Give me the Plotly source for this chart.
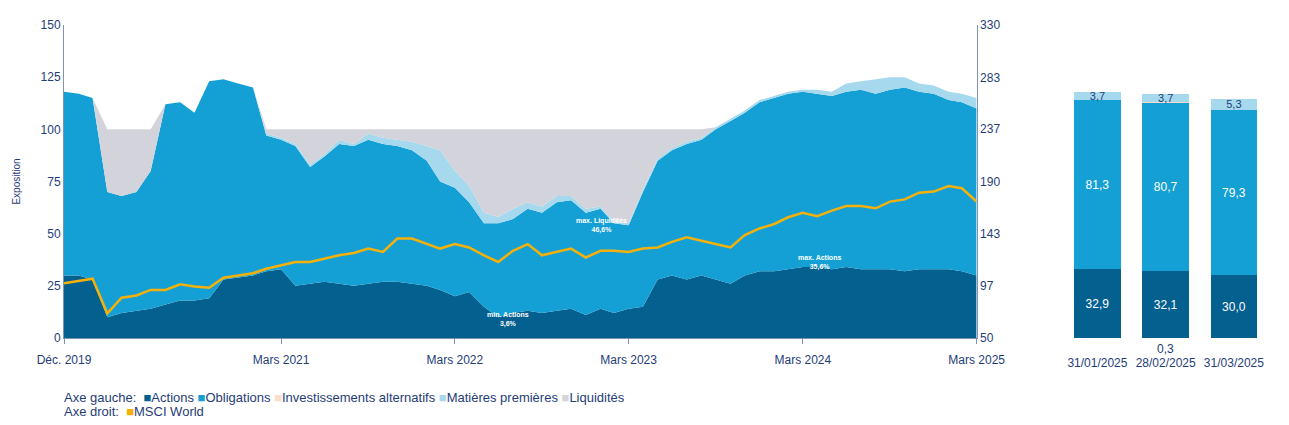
import pandas as pd
import plotly.graph_objects as go

dates = pd.date_range("2019-12-31", "2025-03-31", freq="ME")
actions = [30,30,28,10,12,13,14,16,18,18,19,28,29,30,32,33,25,26,27,26,25,26,27,27,26,25,23,20,22,15,10,12,13,12,13,14,11,14,12,14,15,28,30,28,30,28,26,30,32,32,33,34,34,33,34,33,33,33,32,33,33,33,32,30]
obligations = [88,87,87,60,56,57,66,96,95,90,104,96,93,90,65,62,67,56,60,67,67,69,66,65,64,60,52,52,43,40,45,45,49,48,52,52,49,48,43,40,55,57,60,65,65,72,78,78,81,83,84,84,83,83,84,86,84,86,88,85,84,81,81,80]
matieres = [0,0,0,0,0,0,0,0,0,0,0,0,0,0,1,1,1,1,1,2,1,3,3,3,4,7,15,8,8,5,3,5,3,3,3,2,2,1,1,1,1,1,1,1,1,1,1,1,1,1,1,1,2,2,4,4,7,6,5,4,4,4,4,5]
msci = [99,101,103,72,86,88,93,93,98,96,95,104,106,108,112,115,118,118,121,124,126,130,127,139,139,134,130,134,131,124,118,128,134,124,127,130,122,128,128,127,130,131,136,140,137,134,131,142,148,152,158,162,159,164,168,168,166,172,174,180,181,186,184,172]
liquidites = [max(0, 100 - a - o - m) for a, o, m in zip(actions, obligations, matieres)]

bar_cats = ["31/01/2025", "28/02/2025", "31/03/2025"]
bar_actions = [32.9, 32.1, 30.0]
bar_oblig = [81.3, 80.7, 79.3]
bar_alt = [0.0, 0.3, 0.0]
bar_mat = [3.7, 3.7, 5.3]

tick_dates = ["2019-12-31", "2021-03-31", "2022-03-31", "2023-03-31", "2024-03-31", "2025-03-31"]
tick_text = ["Déc. 2019", "Mars 2021", "Mars 2022", "Mars 2023", "Mars 2024", "Mars 2025"]

C_ACT, C_OBL, C_ALT, C_MAT, C_LIQ, C_MSCI = "#04608f", "#14a0d4", "#f9dccb", "#a7d9ee", "#d3d4db", "#f5b10a"
NAVY = "#1f3d78"
F = "Liberation Sans, Arial"

fig = go.Figure()
for name, vals, col in [("Actions", actions, C_ACT), ("Obligations", obligations, C_OBL),
                        ("Matières premières", matieres, C_MAT), ("Liquidités", liquidites, C_LIQ)]:
    fig.add_trace(go.Scatter(x=dates, y=vals, stackgroup="one", mode="lines", line=dict(width=0, color=col),
                             fillcolor=col, name=name, xaxis="x", yaxis="y"))
fig.add_trace(go.Scatter(x=dates, y=msci, mode="lines", line=dict(color=C_MSCI, width=2.5), name="MSCI World",
                         xaxis="x", yaxis="y2"))

fmt = lambda v: f"{v:.1f}".replace(".", ",")
fig.add_trace(go.Bar(x=bar_cats, y=bar_actions, marker=dict(color=C_ACT, line=dict(width=0)), xaxis="x3", yaxis="y3",
                     text=[fmt(v) for v in bar_actions], textposition="inside", insidetextanchor="middle",
                     textfont=dict(color="white", size=12, family=F)))
fig.add_trace(go.Bar(x=bar_cats, y=bar_oblig, marker=dict(color=C_OBL, line=dict(width=0)), xaxis="x3", yaxis="y3",
                     text=[fmt(v) for v in bar_oblig], textposition="inside", insidetextanchor="middle",
                     textfont=dict(color="white", size=12, family=F)))
fig.add_trace(go.Bar(x=bar_cats, y=bar_alt, marker=dict(color=C_ALT, line=dict(width=0)), xaxis="x3", yaxis="y3"))
fig.add_trace(go.Bar(x=bar_cats, y=bar_mat, marker=dict(color=C_MAT, line=dict(width=0)), xaxis="x3", yaxis="y3",
                     text=[fmt(v) for v in bar_mat], textposition="inside", insidetextanchor="middle",
                     textfont=dict(color=NAVY, size=11, family=F), constraintext="none"))

ann = []
for x, y, t in [("2022-07-20", 9, "min. Actions<br>3,6%"), ("2023-02-01", 54, "max. Liquidités<br>46,6%"),
                ("2024-05-05", 36, "max. Actions<br>35,6%")]:
    ann.append(dict(x=x, y=y, xref="x", yref="y", text=f"<b>{t}</b>", showarrow=False,
                    font=dict(color="white", size=7, family=F)))
ann.append(dict(x="28/02/2025", y=0, xref="x3", yref="y3", yshift=-11, text="0,3", showarrow=False,
                font=dict(color=NAVY, size=12, family=F)))
sq = lambda c: f"<span style='color:{c}'>■</span>"
ann.append(dict(x=0.0, y=-0.19, xref="paper", yref="paper", xanchor="left", yanchor="middle", showarrow=False, xshift=-2,
                text=f"Axe gauche:  {sq(C_ACT)}Actions {sq(C_OBL)}Obligations {sq(C_ALT)}Investissements alternatifs "
                     f"{sq(C_MAT)}Matières premières {sq(C_LIQ)}Liquidités",
                font=dict(color=NAVY, size=13, family=F)))
ann.append(dict(x=0.0, y=-0.235, xref="paper", yref="paper", xanchor="left", yanchor="middle", showarrow=False, xshift=-2,
                text=f"Axe droit:  {sq(C_MSCI)}MSCI World", font=dict(color=NAVY, size=13, family=F)))

axfont = dict(color=NAVY, size=12, family=F)
fig.update_layout(
    width=1289, height=425, margin=dict(l=56, r=0, t=17, b=95), plot_bgcolor="white", paper_bgcolor="white",
    showlegend=False, barmode="stack", bargap=0.32, annotations=ann,
    xaxis=dict(domain=[0, 0.758], range=["2019-12-31", "2025-03-31"], tickvals=tick_dates, ticktext=tick_text,
               showgrid=False, ticks="outside", ticklen=5, tickcolor="#7f93b5", tickfont=axfont, linecolor="#7f93b5",
               showline=True, zeroline=False, ticklabelstandoff=6),
    yaxis=dict(range=[0, 150], tickvals=[0, 25, 50, 75, 100, 125, 150], showgrid=False, showline=True,
               linecolor="#7f93b5", tickfont=axfont, zeroline=False,
               title=dict(text="Exposition", font=dict(color=NAVY, size=10, family=F), standoff=18)),
    yaxis2=dict(overlaying="y", side="right", range=[50, 330], tickvals=[50, 97, 143, 190, 237, 283, 330],
                showgrid=False, showline=True, linecolor="#7f93b5", tickfont=axfont, anchor="x", zeroline=False),
    xaxis3=dict(domain=[0.83, 1.0], anchor="y3", showgrid=False, tickfont=axfont, showline=False, ticks="",
                ticklabelstandoff=16),
    yaxis3=dict(domain=[0, 1], anchor="x3", range=[0, 150], visible=False),
)
fig.write_html("out.html")
